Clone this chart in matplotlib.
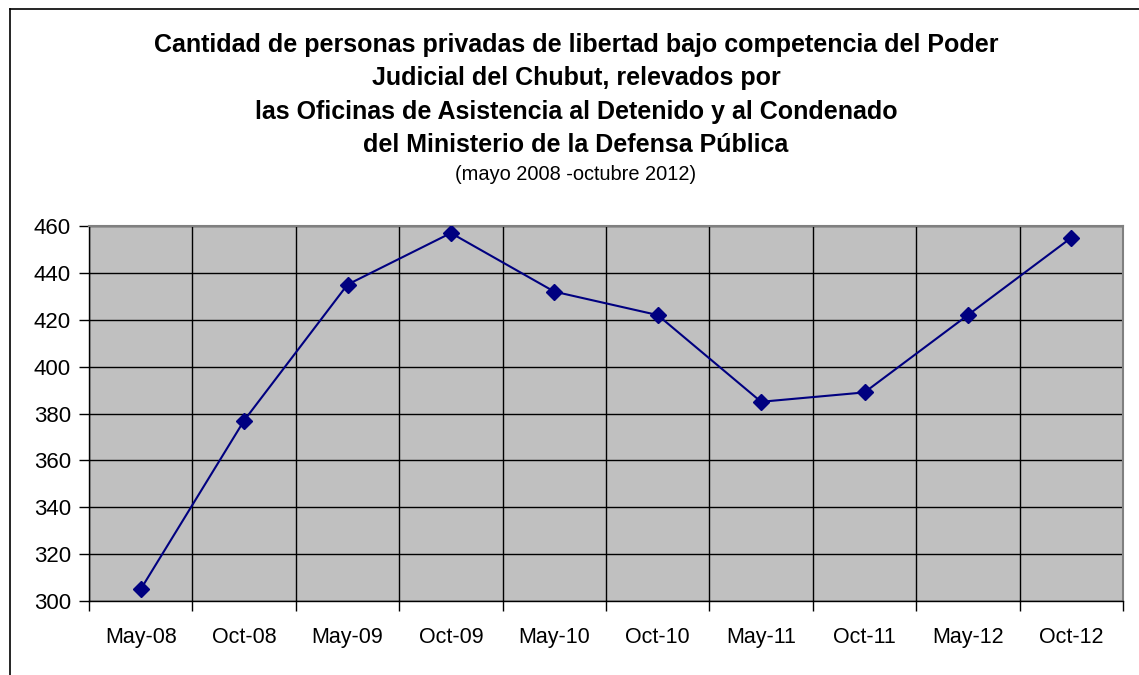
import numpy as np
import matplotlib.pyplot as plt
from matplotlib.lines import Line2D

# datos
periodos = ['May-08', 'Oct-08', 'May-09', 'Oct-09', 'May-10',
            'Oct-10', 'May-11', 'Oct-11', 'May-12', 'Oct-12']
personas = [305, 377, 435, 457, 432, 422, 385, 389, 422, 455]

titulo = ('Cantidad de personas privadas de libertad bajo competencia del Poder\n'
          'Judicial del Chubut, relevados por\n'
          'las Oficinas de Asistencia al Detenido y al Condenado\n'
          'del Ministerio de la Defensa Pública')
subtitulo = '(mayo 2008 -octubre 2012)'

plt.rcParams['font.family'] = ['Liberation Sans', 'DejaVu Sans']

fig = plt.figure(figsize=(11.39, 6.75), dpi=100)
ax = fig.add_axes([89/1139, 1 - 601/675, (1123 - 89)/1139, (601 - 226)/675])

x = np.arange(len(periodos))
ax.plot(x, personas, color='#000080', lw=1.5, marker='D', ms=8,
        markerfacecolor='#000080', markeredgecolor='#000080', zorder=3)

ax.set_facecolor('#C0C0C0')
ax.set_xlim(-0.5, len(periodos) - 0.5)
ax.set_ylim(300, 460)
ax.set_yticks(np.arange(300, 461, 20))
ax.set_xticks(x)
ax.set_xticklabels(periodos)
ax.set_xticks(np.arange(-0.5, len(periodos), 1), minor=True)

# grilla estilo excel
ax.grid(axis='y', which='major', color='black', lw=1)
ax.grid(axis='x', which='minor', color='black', lw=1)
ax.set_axisbelow(True)

ax.tick_params(axis='x', which='major', length=0, labelsize=15.5, pad=19)
ax.tick_params(axis='x', which='minor', length=7, width=1, direction='out')
ax.tick_params(axis='y', length=7, width=1, direction='out', labelsize=16, pad=6)

for s in ['top', 'right']:
    ax.spines[s].set_color('#808080')
    ax.spines[s].set_linewidth(1.5)
for s in ['left', 'bottom']:
    ax.spines[s].set_color('black')
    ax.spines[s].set_linewidth(1)

fig.text(576/1139, 1 - 95/675, titulo, ha='center', va='center', fontsize=18,
         fontweight='bold', linespacing=1.5)
fig.text(576/1139, 1 - 174/675, subtitulo, ha='center', va='center', fontsize=14.4)

# marco del area del grafico
fig.add_artist(Line2D([10/1139, 10/1139], [0, 1 - 9/675], color='black', lw=1.2,
                      transform=fig.transFigure))
fig.add_artist(Line2D([10/1139, 1], [1 - 9/675, 1 - 9/675], color='black', lw=1.2,
                      transform=fig.transFigure))

fig.savefig('out.png', dpi=100)
